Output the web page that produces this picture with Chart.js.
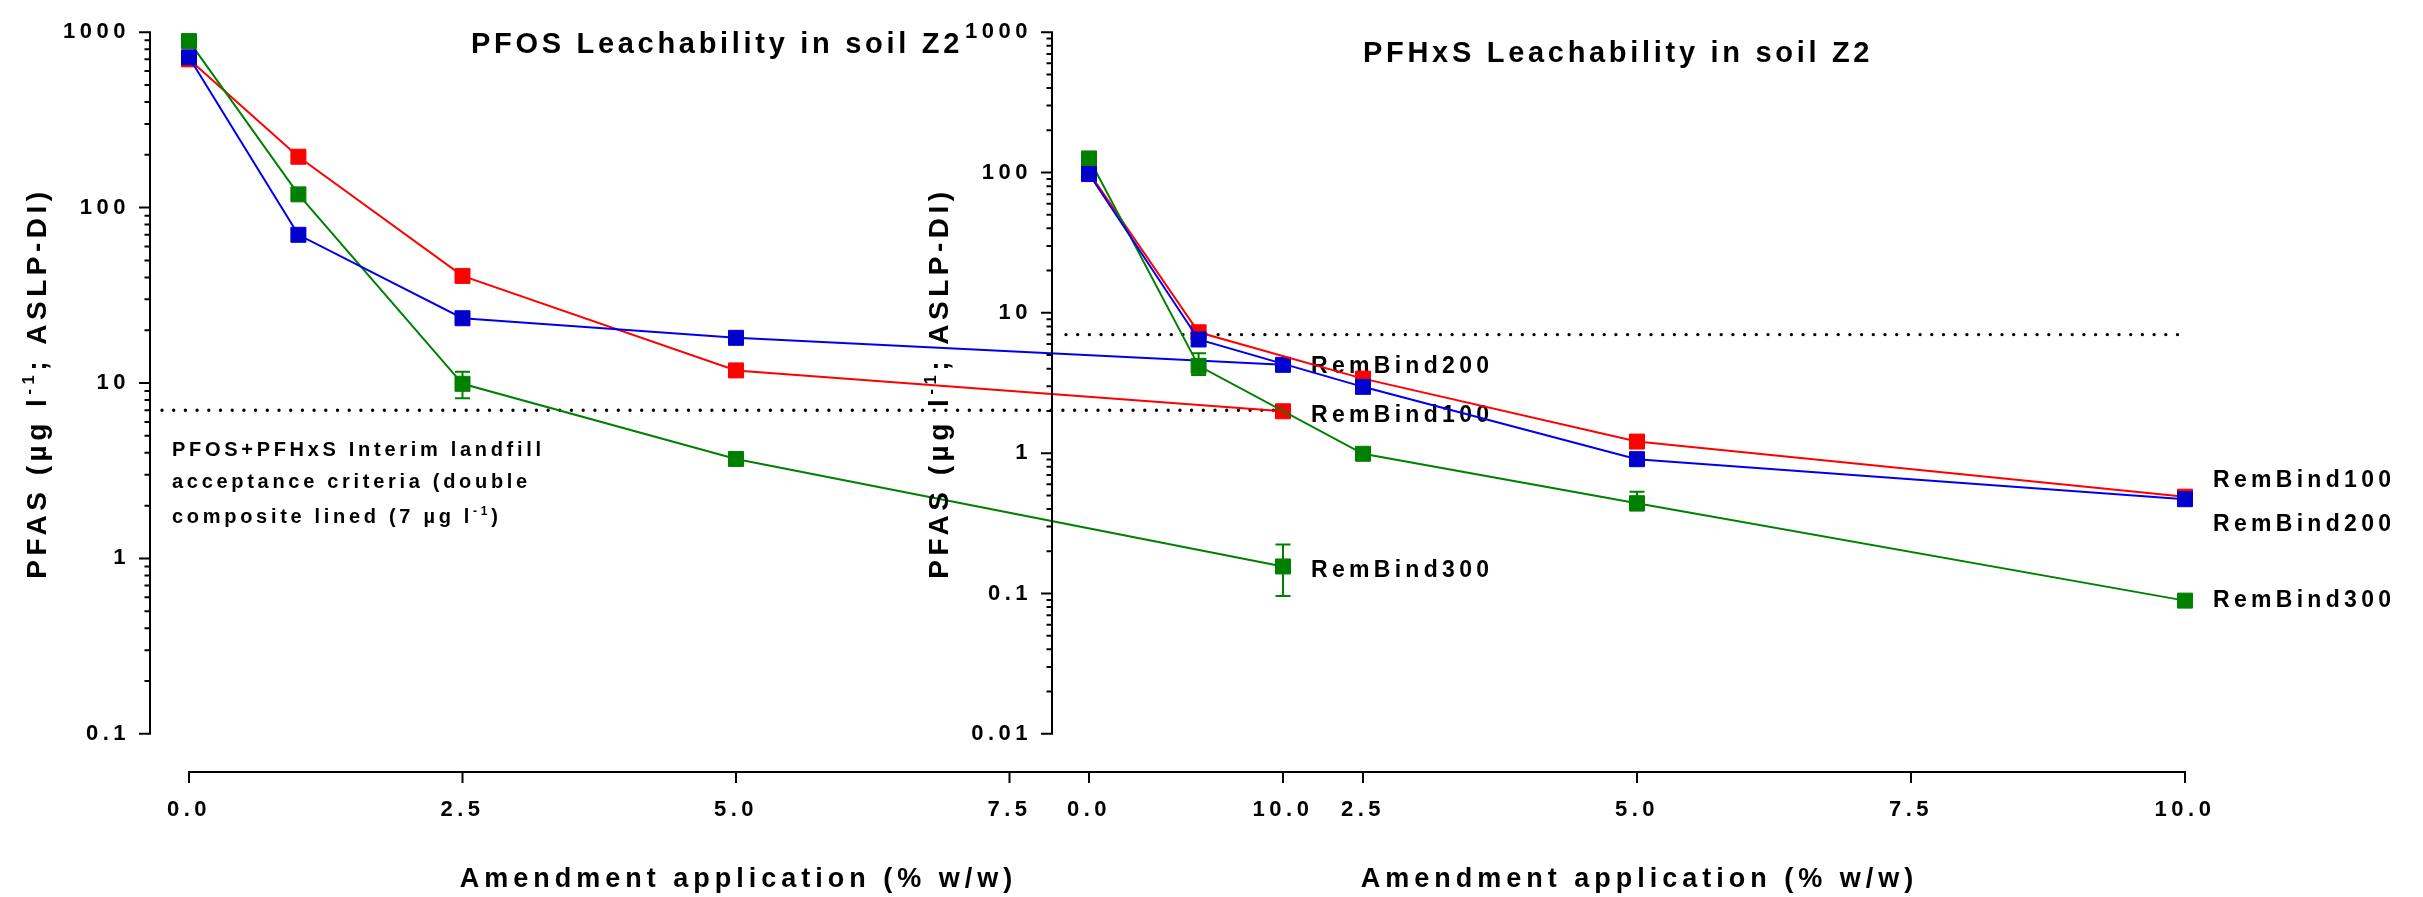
<!DOCTYPE html>
<html><head><meta charset="utf-8">
<script src="https://cdn.jsdelivr.net/npm/chart.js@4"></script>
<style>
html,body{margin:0;padding:0;background:#fff;}
#wrap{position:relative;width:2423px;height:897px;background:#fff;overflow:hidden;}
canvas{position:absolute;left:0;top:0;}
</style></head><body>
<div id="wrap"><canvas id="cL" width="2423" height="897"></canvas><canvas id="cR" width="2423" height="897"></canvas></div>
<script>
const FONT = '"Liberation Sans", Arial, sans-serif';

// ---- data ----
const amendment = [0, 1, 2.5, 5, 10];            // % w/w
const xTickValues = [0, 2.5, 5, 7.5, 10];
const pfosTickValues = [0.1, 1, 10, 100, 1000];
const pfhxsTickValues = [0.01, 0.1, 1, 10, 100, 1000];
const seriesNames = ['RemBind100', 'RemBind200', 'RemBind300'];
const criterion = 7;                               // µg/l landfill acceptance

// PFOS leachability (µg/l)
const pfosRB100 = [700, 195, 40.8, 11.8, 6.9];
const pfosRB200 = [719, 70, 23.4, 18.1, 12.7];
const pfosRB300 = [890, 119, 9.9, 3.69, 0.90];
const pfosRB300Low = [null, null, 8.2, null, 0.61];
const pfosRB300High = [null, null, 11.6, null, 1.20];

// PFHxS leachability (µg/l)
const pfhxsRB100 = [100, 7.27, 3.40, 1.21, 0.49];
const pfhxsRB200 = [97.5, 6.46, 2.97, 0.906, 0.47];
const pfhxsRB300 = [126, 4.19, 0.99, 0.44, 0.089];
const pfhxsRB300Low = [null, 3.6, null, 0.39, null];
const pfhxsRB300High = [null, 5.16, null, 0.53, null];

const colors = {
  RemBind100: {line: '#FF0000', point: '#FF0000'},
  RemBind200: {line: '#0000F0', point: '#0000CC'},
  RemBind300: {line: '#008000', point: '#008000'}
};
const drawOrder = {RemBind100: 3, RemBind300: 2, RemBind200: 1};

function makeDataset(name, values) {
  return {
    label: name,
    data: amendment.map((x, i) => ({x: x, y: values[i]})),
    borderColor: colors[name].line,
    backgroundColor: colors[name].point,
    pointBackgroundColor: colors[name].point,
    pointBorderColor: colors[name].point,
    pointBorderWidth: 1,
    borderWidth: 2,
    pointStyle: 'rect',
    pointRadius: 10.6,
    tension: 0,
    clip: false,
    order: drawOrder[name]
  };
}

function drawSegs(ctx, segs, x, y, size, ls) {
  ctx.letterSpacing = ls + 'px';
  for (const s of segs) {
    const fs = s.sup ? size * 0.6 : size;
    ctx.font = 'bold ' + fs + 'px ' + FONT;
    ctx.fillText(s.t, x, s.sup ? y - size * 0.42 : y);
    x += ctx.measureText(s.t).width;
  }
}
function segsWidth(ctx, segs, size, ls) {
  ctx.letterSpacing = ls + 'px';
  let w = 0;
  for (const s of segs) {
    const fs = s.sup ? size * 0.6 : size;
    ctx.font = 'bold ' + fs + 'px ' + FONT;
    w += ctx.measureText(s.t).width;
  }
  return w;
}

const yTitleSegs = [{t: 'PFAS (µg l'}, {t: '-1', sup: true}, {t: '; ASLP-DI)'}];
const xTitleText = 'Amendment application (% w/w)';

function makePlugin(cfg) {
  return {
    id: 'gp' + cfg.key,
    beforeUpdate(chart) { chart.ctx.letterSpacing = '4.5px'; },
    beforeDraw(chart) { chart.ctx.letterSpacing = '4.5px'; },
    beforeDatasetsDraw(chart) {
      const ctx = chart.ctx, xs = chart.scales.x, ys = chart.scales.y, a = chart.chartArea;
      ctx.save();
      ctx.strokeStyle = '#000';
      ctx.lineWidth = 2;
      // y axis
      const ax = a.left + 1;
      const yt = cfg.yTicks;
      ctx.beginPath();
      ctx.moveTo(ax, ys.getPixelForValue(yt[yt.length - 1]) - 1);
      ctx.lineTo(ax, ys.getPixelForValue(yt[0]) + 1);
      for (const v of yt) { const p = ys.getPixelForValue(v); ctx.moveTo(ax - 11, p); ctx.lineTo(ax, p); }
      ctx.stroke();
      ctx.beginPath();
      for (let i = 0; i < yt.length - 1; i++) {
        for (let m = 2; m <= 9; m++) { const p = ys.getPixelForValue(yt[i] * m); ctx.moveTo(ax - 5.5, p); ctx.lineTo(ax, p); }
      }
      ctx.stroke();
      // x axis
      const ay = a.bottom;
      const x0 = xs.getPixelForValue(xTickValues[0]), x1 = xs.getPixelForValue(xTickValues[xTickValues.length - 1]);
      ctx.beginPath();
      ctx.moveTo(x0 - 1, ay); ctx.lineTo(x1 + 1, ay);
      for (const v of xTickValues) { const p = xs.getPixelForValue(v); ctx.moveTo(p, ay); ctx.lineTo(p, ay + 11); }
      ctx.stroke();
      // dotted criterion line
      const cy = ys.getPixelForValue(criterion);
      ctx.setLineDash([0, 11.7]);
      ctx.lineCap = 'round';
      ctx.lineWidth = 3.4;
      ctx.beginPath();
      ctx.moveTo(a.left + cfg.dotStart, cy); ctx.lineTo(x1, cy);
      ctx.stroke();
      ctx.setLineDash([]);
      ctx.lineCap = 'butt';
      // error bars
      ctx.strokeStyle = colors.RemBind300.line;
      ctx.lineWidth = 2;
      cfg.errLow.forEach((lo, i) => {
        const hi = cfg.errHigh[i];
        if (lo == null || hi == null) return;
        const px = xs.getPixelForValue(amendment[i]);
        const pl = ys.getPixelForValue(lo), ph = ys.getPixelForValue(hi);
        ctx.beginPath();
        ctx.moveTo(px, pl); ctx.lineTo(px, ph);
        ctx.moveTo(px - 7.5, pl); ctx.lineTo(px + 7.5, pl);
        ctx.moveTo(px - 7.5, ph); ctx.lineTo(px + 7.5, ph);
        ctx.stroke();
      });
      ctx.restore();
    },
    afterDatasetsDraw(chart) {
      const ctx = chart.ctx, xs = chart.scales.x, ys = chart.scales.y, a = chart.chartArea;
      ctx.save();
      ctx.fillStyle = '#000';
      ctx.textAlign = 'left';
      ctx.textBaseline = 'alphabetic';
      // plot title
      drawSegs(ctx, [{t: cfg.title}], a.left + cfg.titleDx, cfg.titleBaseline, 29, 3.7);
      // x title
      const xw = segsWidth(ctx, [{t: xTitleText}], 27, 5);
      const xc = (xs.getPixelForValue(xTickValues[0]) + xs.getPixelForValue(xTickValues[xTickValues.length - 1])) / 2;
      drawSegs(ctx, [{t: xTitleText}], xc - xw / 2 + 2.5, 887, 27, 5);
      // y title (rotated)
      const yw = segsWidth(ctx, yTitleSegs, 28, 4.5);
      const yc = (ys.getPixelForValue(cfg.yTicks[0]) + ys.getPixelForValue(cfg.yTicks[cfg.yTicks.length - 1])) / 2;
      ctx.save();
      ctx.translate(a.left - 113, yc);
      ctx.rotate(-Math.PI / 2);
      drawSegs(ctx, yTitleSegs, -yw / 2, 10, 28, 4.5);
      ctx.restore();
      // series labels at last point
      ctx.textBaseline = 'middle';
      const last = amendment.length - 1;
      cfg.series.forEach((vals, k) => {
        const name = seriesNames[k];
        const px = xs.getPixelForValue(amendment[last]) + 28;
        const py = ys.getPixelForValue(vals[last]) + cfg.labelDy[k];
        drawSegs(ctx, [{t: name}], px, py, 23, 4.3);
      });
      // annotation
      if (cfg.note) {
        ctx.textBaseline = 'alphabetic';
        const cy = ys.getPixelForValue(criterion);
        cfg.note.forEach((line, i) => {
          drawSegs(ctx, line, a.left + 23, cy + cfg.noteDy[i], 20, 3.7);
        });
      }
      ctx.restore();
    }
  };
}

function makeChart(canvasId, cfg, datasets) {
  return new Chart(document.getElementById(canvasId), {
    type: 'line',
    data: {datasets: datasets},
    options: {
      responsive: false,
      animation: false,
      events: [],
      layout: {padding: {left: cfg.padLeft, right: cfg.padRight, top: 16, bottom: 0}},
      plugins: {legend: {display: false}, tooltip: {enabled: false}, title: {display: false}},
      scales: {
        x: {
          type: 'linear', min: cfg.xMin, max: 10,
          grid: {display: false, drawTicks: false},
          border: {display: false},
          afterBuildTicks: (s) => { s.ticks = xTickValues.map(v => ({value: v})); },
          afterFit: (s) => { s.height = 125; },
          ticks: {
            color: '#000', padding: 25, autoSkip: false, maxRotation: 0,
            font: {family: FONT, size: 22, weight: 'bold'},
            callback: (v) => Number(v).toFixed(1)
          }
        },
        y: {
          type: 'logarithmic', min: cfg.yMin, max: 1000,
          grid: {display: false, drawTicks: false},
          border: {display: false},
          afterBuildTicks: (s) => { s.ticks = cfg.yTicks.map(v => ({value: v})); },
          afterFit: (s) => { s.width = cfg.yWidth; },
          ticks: {
            color: '#000', padding: 19, autoSkip: false,
            font: {family: FONT, size: 22, weight: 'bold'},
            callback: (v) => String(v)
          }
        }
      }
    },
    plugins: [makePlugin(cfg)]
  });
}

const leftCfg = {
  key: 'L', padLeft: 0, yWidth: 149, padRight: 2423 - 1283,
  xMin: -0.3656, yMin: 0.0606, yTicks: pfosTickValues,
  title: 'PFOS Leachability in soil Z2', titleDx: 322, titleBaseline: 53,
  series: [pfosRB100, pfosRB200, pfosRB300], labelDy: [4, 2, 4],
  errLow: pfosRB300Low, errHigh: pfosRB300High, dotStart: 13,
  note: [
    [{t: 'PFOS+PFHxS Interim landfill'}],
    [{t: 'acceptance criteria (double'}],
    [{t: 'composite lined (7 µg l'}, {t: '-1', sup: true}, {t: ')'}]
  ],
  noteDy: [46, 78, 113]
};
const rightCfg = {
  key: 'R', padLeft: 900, yWidth: 151, padRight: 2423 - 2185,
  xMin: -0.3467, yMin: 0.005346, yTicks: pfhxsTickValues,
  title: 'PFHxS Leachability in soil Z2', titleDx: 312, titleBaseline: 62,
  series: [pfhxsRB100, pfhxsRB200, pfhxsRB300], labelDy: [-16, 25, 0],
  errLow: pfhxsRB300Low, errHigh: pfhxsRB300High, dotStart: 15,
  note: null, noteDy: []
};

makeChart('cL', leftCfg, [
  makeDataset('RemBind100', pfosRB100),
  makeDataset('RemBind200', pfosRB200),
  makeDataset('RemBind300', pfosRB300)
]);
makeChart('cR', rightCfg, [
  makeDataset('RemBind100', pfhxsRB100),
  makeDataset('RemBind200', pfhxsRB200),
  makeDataset('RemBind300', pfhxsRB300)
]);
</script>
</body></html>
